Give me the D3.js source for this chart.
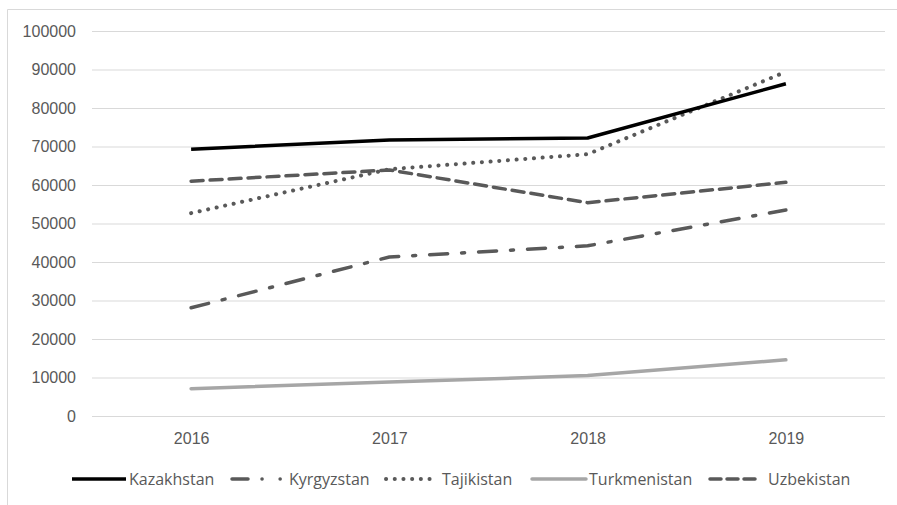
<!DOCTYPE html>
<html>
<head>
<meta charset="utf-8">
<script src="https://cdn.jsdelivr.net/npm/d3@7"></script>
<style>
  body { margin: 0; background: #fff; }
  svg { display: block; font-family: "Open Sans", sans-serif; }
</style>
</head>
<body>
<svg></svg>
<script>
let years = ['2016', '2017', '2018', '2019']
let yTicks = [0, 10000, 20000, 30000, 40000, 50000, 60000, 70000, 80000, 90000, 100000]

let kazakhstan = [69300, 71700, 72200, 86300]
let kyrgyzstan = [28100, 41300, 44200, 53500]
let tajikistan = [52700, 64100, 68000, 89400]
let turkmenistan = [7100, 8800, 10500, 14600]
let uzbekistan = [61000, 63900, 55400, 60700]

let series = [
    { name: 'Kazakhstan', values: kazakhstan, color: '#000000', dash: null, legendDash: null, cap: 'butt', legendX: 72 },
    { name: 'Kyrgyzstan', values: kyrgyzstan, color: '#595959', dash: '18,14,3,14', legendDash: '16,14,0.1,18,0.1,100', cap: 'round', legendX: 232 },
    { name: 'Tajikistan', values: tajikistan, color: '#595959', dash: '0.1,8.6', legendDash: '0.1,8.6', cap: 'round', legendX: 386 },
    { name: 'Turkmenistan', values: turkmenistan, color: '#a6a6a6', dash: null, legendDash: null, cap: 'round', legendX: 532 },
    { name: 'Uzbekistan', values: uzbekistan, color: '#595959', dash: '12,7', legendDash: '11,6', cap: 'round', legendX: 710 }
]

let width = 897
let height = 505
let plotLeft = 92
let plotRight = 885
let plotTop = 31
let plotBottom = 416

let svg = d3.select('svg')
    .attr('width', width)
    .attr('height', height)

// chart frame (only top and left edges are in the crop)
svg.append('path')
    .attr('d', 'M7.5,' + height + 'V9.5H' + width)
    .attr('fill', 'none')
    .attr('stroke', '#d9d9d9')

let xScale = d3.scalePoint()
    .domain(years)
    .range([plotLeft, plotRight])
    .padding(0.5)

let yScale = d3.scaleLinear()
    .domain([0, 100000])
    .range([plotBottom, plotTop])

let yAxis = d3.axisLeft(yScale)
    .tickValues(yTicks)
    .tickSize(-(plotRight - plotLeft))
    .tickPadding(16)
    .tickFormat(d3.format('d'))

svg.append('g')
    .attr('transform', 'translate(' + plotLeft + ',0)')
    .call(yAxis)
    .call(g => g.select('.domain').remove())
    .call(g => g.selectAll('line').attr('stroke', '#d9d9d9').attr('stroke-width', 1))
    .call(g => g.selectAll('text').attr('fill', '#595959').attr('font-size', 16))

let xAxis = d3.axisBottom(xScale)
    .tickSize(0)
    .tickPadding(17)

svg.append('g')
    .attr('transform', 'translate(0,' + plotBottom + ')')
    .call(xAxis)
    .call(g => g.select('.domain').remove())
    .call(g => g.selectAll('text').attr('fill', '#595959').attr('font-size', 16))

let line = d3.line()
    .x((d, i) => xScale(years[i]))
    .y(d => yScale(d))

// draw lighter ones first so black sits on top
let order = [3, 1, 4, 2, 0]
order.forEach(k => {
    let s = series[k]
    svg.append('path')
        .datum(s.values)
        .attr('d', line)
        .attr('fill', 'none')
        .attr('stroke', s.color)
        .attr('stroke-width', s.name === 'Tajikistan' ? 4 : 3.5)
        .attr('stroke-linecap', s.cap)
        .attr('stroke-linejoin', 'round')
        .attr('stroke-dasharray', s.dash)
})

let legendY = 479
let legend = svg.append('g')

series.forEach(s => {
    let g = legend.append('g')
    let len = s.name === 'Uzbekistan' ? 48 : (s.name === 'Tajikistan' ? 50 : 54)
    g.append('line')
        .attr('x1', s.legendX)
        .attr('x2', s.legendX + len)
        .attr('y1', legendY)
        .attr('y2', legendY)
        .attr('stroke', s.color)
        .attr('stroke-width', s.name === 'Tajikistan' ? 4 : 3.5)
        .attr('stroke-linecap', s.cap)
        .attr('stroke-dasharray', s.legendDash)
    g.append('text')
        .attr('x', s.legendX + len + (s.name === 'Uzbekistan' ? 10 : (s.name === 'Tajikistan' ? 6 : 3)))
        .attr('y', legendY)
        .attr('dy', '0.35em')
        .attr('fill', '#595959')
        .attr('font-size', 16)
        .text(s.name)
})
</script>
</body>
</html>
